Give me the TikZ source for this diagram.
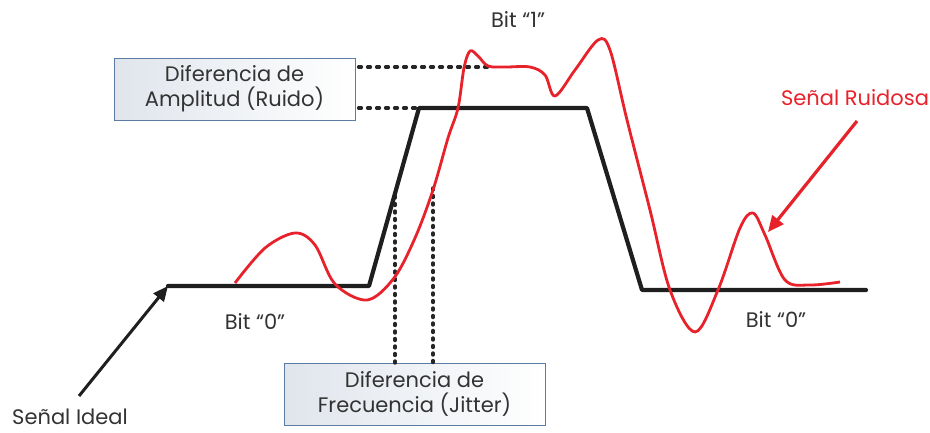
\documentclass[tikz,border=0pt]{standalone}
\usepackage{fontspec}
\setmainfont{Poppins}
\usetikzlibrary{arrows.meta}
\definecolor{txt}{HTML}{333333}
\definecolor{rojo}{HTML}{E8222A}
\definecolor{borde}{HTML}{5B7CA3}
\definecolor{relleno}{HTML}{E0E5EC}
\tikzset{
  lbl/.style={font=\fontsize{21}{25}\selectfont, text=txt, inner sep=0pt},
  infobox/.style={draw=borde, line width=1pt, left color=relleno, right color=white,
     align=center, font=\fontsize{21}{25}\selectfont, text=txt, inner sep=0pt},
  ideal/.style={line width=4.2pt, black!88, line join=round, line cap=round},
  ruido/.style={line width=2.8pt, rojo, line join=round},
  hdash/.style={line width=3.2pt, black!85, line cap=round, dash pattern=on 3pt off 6pt},
  vdot/.style={line width=3.4pt, black!85, line cap=round, dash pattern=on 2pt off 5.5pt},
}
\begin{document}
\begin{tikzpicture}[x=1pt,y=-1pt]
\useasboundingbox (0,0) rectangle (930,432);
% boxes
\node[infobox, minimum width=241pt, minimum height=62pt] (amp) at (234.5,89) {Diferencia de\\Amplitud (Ruido)};
\node[infobox, minimum width=261pt, minimum height=62pt] (freq) at (414.5,394) {Diferencia de\\Frecuencia (Jitter)};
% coordinates of ideal signal
\coordinate (i0) at (168,286);
\coordinate (i1) at (369,286);
\coordinate (i2) at (419,108);
\coordinate (i3) at (587,108);
\coordinate (i4) at (642,290);
\coordinate (i5) at (866,290);
\coordinate (h1) at (488,67);
\coordinate (v1) at (395,196);
\coordinate (v2) at (433,188);
% dotted connectors
\draw[hdash] ([xshift=3pt]amp.east |- h1) -- (h1);
\draw[hdash] ([xshift=3pt]amp.east |- i2) -- (i2);
\draw[vdot] (v1) -- ([yshift=-3pt]v1 |- freq.north);
\draw[vdot] (v2) -- ([yshift=-3pt]v2 |- freq.north);
% ideal
\draw[ideal] (i0) -- (i1) -- (i2) -- (i3) -- (i4) -- (i5);
% noisy
\draw[ruido] plot[smooth, tension=0.55] coordinates {
 (235,283) (265,248) (295,233) (315,245) (335,284) (367,300) (394,278) (415,238)
 (433,190) (448,138) (458,108) (464,68) (470,51) (478,56) (488,66) (505,67) (530,67)
 (545,75) (555,96) (575,70) (598,40) (610,50) (627,120) (650,210) (670,290)
 (695,332) (718,290) (740,228) (753,213) (765,235) (785,280) (810,285) (840,282)};
% labels
\node[lbl] (b1) at (518,20) {Bit “1”};
\node[lbl] (b0a) at (255,322) {Bit “0”};
\node[lbl] (b0b) at (776,320) {Bit “0”};
\node[lbl, text=rojo] (sr) at (855,98) {Señal Ruidosa};
\node[lbl] (si) at (70,417) {Señal Ideal};
% arrows
\coordinate (aI) at (79,396);
\coordinate (aR) at (857,121);
\coordinate (tR) at (768,232);
\draw[line width=3pt, black!88, -{Triangle[length=15pt,width=13pt]}] (aI) -- (i0);
\draw[line width=3.2pt, rojo, -{Triangle[length=16pt,width=14pt]}] (aR) -- (tR);
\end{tikzpicture}
\end{document}
